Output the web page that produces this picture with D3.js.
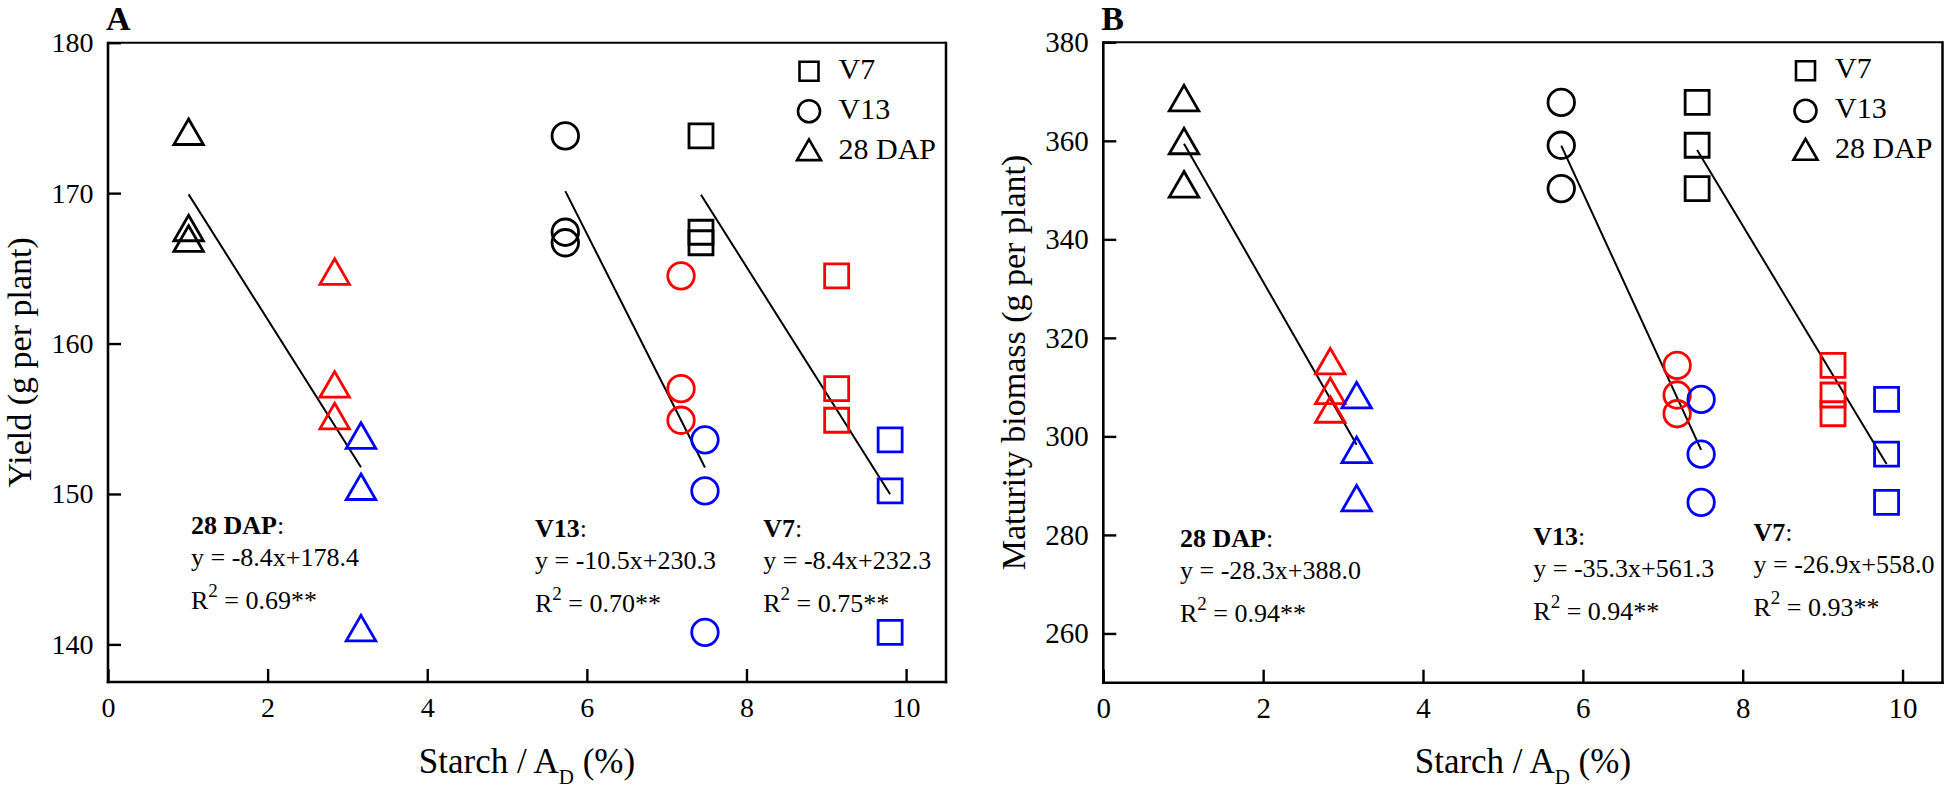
<!DOCTYPE html>
<html><head><meta charset="utf-8">
<script src="https://cdn.jsdelivr.net/npm/d3@7"></script>
<style>
body{margin:0;background:#fff}
svg{display:block}
text{font-family:"Liberation Serif","Times New Roman",serif;fill:#000}
</style>
</head><body><svg id="chart" width="1946" height="788"></svg>
<script>
// ---------------- DATA ----------------
const stages = ["V7", "V13", "28 DAP"];
// starch / A_D (%) for the three plant groups (black, red, blue) at each stage
const starchV7  = [7.43, 9.13, 9.80];
const starchV13 = [5.73, 7.18, 7.48];
const starch28DAP = [1.01, 2.84, 3.17];
// yield (g per plant), three plants per group
const yieldBlack = [173.8, 167.4, 166.7];
const yieldRed   = [164.5, 157.0, 154.9];
const yieldBlue  = [153.6, 150.2, 140.8];
// maturity biomass (g per plant)
const biomassBlack = [367.8, 359.1, 350.3];
const biomassRed   = [314.4, 308.4, 304.6];
const biomassBlue  = [307.5, 296.4, 286.6];
// regressions, order = stages
const yieldSlope = [-8.4, -10.5, -8.4];
const yieldIntercept = [232.3, 230.3, 178.4];
const yieldR2 = ["0.75", "0.70", "0.69"];
const biomassSlope = [-26.9, -35.3, -28.3];
const biomassIntercept = [558.0, 561.3, 388.0];
const biomassR2 = ["0.93", "0.94", "0.94"];
// ticks
const xTicks = [0, 2, 4, 6, 8, 10];
const yieldTicks = [140, 150, 160, 170, 180];
const biomassTicks = [260, 280, 300, 320, 340, 360, 380];

// ---------------- STYLE / LAYOUT ----------------
const groupColors = ["#000000", "#ff0000", "#0000ff"];
const stageShapes = ["square", "circle", "triangle"];
const markerSize = {square: 24, circle: 26.5, triangle: 29.5};
const legendSize = {square: 19, circle: 22, triangle: 24};
const starchByStage = [starchV7, starchV13, starch28DAP];

const panels = [
  {letter: "A", left: 108, right: 946, top: 42.7, bottom: 682, yDomain: [137.5, 180],
   yTicks: yieldTicks, yLabel: "Yield (g per plant)", yTitleX: 30.5, tickFont: 28,
   values: [yieldBlack, yieldRed, yieldBlue], slope: yieldSlope, intercept: yieldIntercept, r2: yieldR2,
   annot: [{x: 8.21, y: 536.7}, {x: 5.35, y: 536.7}, {x: 1.04, y: 534}]},
  {letter: "B", left: 1103.3, right: 1942.5, top: 42.3, bottom: 682.7, yDomain: [250, 380],
   yTicks: biomassTicks, yLabel: "Maturity biomass (g per plant)", yTitleX: 1025, tickFont: 29,
   values: [biomassBlack, biomassRed, biomassBlue], slope: biomassSlope, intercept: biomassIntercept, r2: biomassR2,
   annot: [{x: 8.135, y: 541}, {x: 5.38, y: 545}, {x: 0.96, y: 546.7}]}
];

function shapePath(shape, s) {
  if (shape === "square") { const h = s / 2; return `M${-h},${-h}H${h}V${h}H${-h}Z`; }
  if (shape === "circle") { const r = s / 2; return `M${r},0A${r},${r} 0 1,1 ${-r},0A${r},${r} 0 1,1 ${r},0Z`; }
  const hg = s * Math.sqrt(3) / 2;
  return `M0,${-2 * hg / 3}L${s / 2},${hg / 3}L${-s / 2},${hg / 3}Z`;
}

const svg = d3.select("#chart");

panels.forEach(p => {
  const x = d3.scaleLinear().domain([0, 10.5]).range([p.left, p.right]);
  const y = d3.scaleLinear().domain(p.yDomain).range([p.bottom, p.top]);
  const g = svg.append("g");

  // axes
  const xAxis = d3.axisBottom(x).tickValues(xTicks).tickSize(-13).tickPadding(15).tickFormat(d3.format("d"));
  const gx = g.append("g").attr("transform", `translate(0,${p.bottom})`).call(xAxis);
  const yAxis = d3.axisLeft(y).tickValues(p.yTicks).tickSize(-13).tickPadding(14.5).tickFormat(d3.format("d"));
  const gy = g.append("g").attr("transform", `translate(${p.left},0)`).call(yAxis);
  [gx, gy].forEach(a => {
    a.select(".domain").remove();
    a.selectAll(".tick line").attr("stroke", "#000").attr("stroke-width", 2.4);
    a.selectAll(".tick text").style("font-size", p.tickFont + "px").style("font-family", '"Liberation Serif",serif').attr("fill", "#000");
  });

  // frame
  g.append("line").attr("x1", p.left).attr("x2", p.right).attr("y1", p.top).attr("y2", p.top).attr("stroke", "#000").attr("stroke-width", 2);
  g.append("line").attr("x1", p.right).attr("x2", p.right).attr("y1", p.top - 1).attr("y2", p.bottom + 1.3).attr("stroke", "#000").attr("stroke-width", 2.5);
  g.append("line").attr("x1", p.left).attr("x2", p.left).attr("y1", p.top - 1).attr("y2", p.bottom + 1.3).attr("stroke", "#000").attr("stroke-width", 2.6);
  g.append("line").attr("x1", p.left - 1.3).attr("x2", p.right + 1.2).attr("y1", p.bottom).attr("y2", p.bottom).attr("stroke", "#000").attr("stroke-width", 2.6);

  // regression lines
  stages.forEach((st, i) => {
    const xs = starchByStage[i];
    const x0 = d3.min(xs), x1 = d3.max(xs);
    g.append("line")
      .attr("x1", x(x0)).attr("y1", y(p.slope[i] * x0 + p.intercept[i]))
      .attr("x2", x(x1)).attr("y2", y(p.slope[i] * x1 + p.intercept[i]))
      .attr("stroke", "#000").attr("stroke-width", 2);
  });

  // points
  stages.forEach((st, i) => {
    const shape = stageShapes[i];
    starchByStage[i].forEach((sx, gi) => {
      p.values[gi].forEach(v => {
        g.append("path").attr("d", shapePath(shape, markerSize[shape]))
          .attr("transform", `translate(${x(sx)},${y(v)})`)
          .attr("fill", "none").attr("stroke", groupColors[gi]).attr("stroke-width", 2.8);
      });
    });
  });

  // legend
  stages.forEach((st, i) => {
    const shape = stageShapes[i];
    const my = p.top + 28.5 + i * 40;
    const cy = shape === "triangle" ? my + 2 : my;
    g.append("path").attr("d", shapePath(shape, legendSize[shape]))
      .attr("transform", `translate(${p.right - 137},${cy})`)
      .attr("fill", "none").attr("stroke", "#000").attr("stroke-width", 2.6);
    g.append("text").attr("x", p.right - 107.5).attr("y", my + 7.5)
      .style("font-size", "30px").text(st);
  });

  // annotations
  stages.forEach((st, i) => {
    const a = p.annot[i];
    const ax = x(a.x);
    const t1 = g.append("text").attr("x", ax).attr("y", a.y).style("font-size", "26px");
    t1.append("tspan").style("font-weight", "bold").text(st);
    t1.append("tspan").text(":");
    const b = p.intercept[i];
    g.append("text").attr("x", ax).attr("y", a.y + 32).style("font-size", "26px")
      .text(`y = ${p.slope[i].toFixed(1)}x+${b.toFixed(1)}`);
    const t3 = g.append("text").attr("x", ax).attr("y", a.y + 75).style("font-size", "26px");
    t3.append("tspan").text("R");
    t3.append("tspan").attr("dy", -12).style("font-size", "19px").text("2");
    t3.append("tspan").attr("dy", 12).text(` = ${p.r2[i]}**`);
  });

  // axis titles
  const cx = (p.left + p.right) / 2, cyc = (p.top + p.bottom) / 2;
  const xt = g.append("text").attr("x", cx).attr("y", 773).attr("text-anchor", "middle").style("font-size", "35px");
  xt.append("tspan").text("Starch / A");
  xt.append("tspan").attr("dy", 11).style("font-size", "21px").text("D");
  xt.append("tspan").attr("dy", -11).text(" (%)");
  g.append("text").attr("transform", `translate(${p.yTitleX},${cyc}) rotate(-90)`)
    .attr("text-anchor", "middle").style("font-size", "34px").text(p.yLabel);

  // panel letter
  g.append("text").attr("x", p.left - 2).attr("y", 30).style("font-size", "34px").style("font-weight", "bold").text(p.letter);
});
</script>
</body></html>
